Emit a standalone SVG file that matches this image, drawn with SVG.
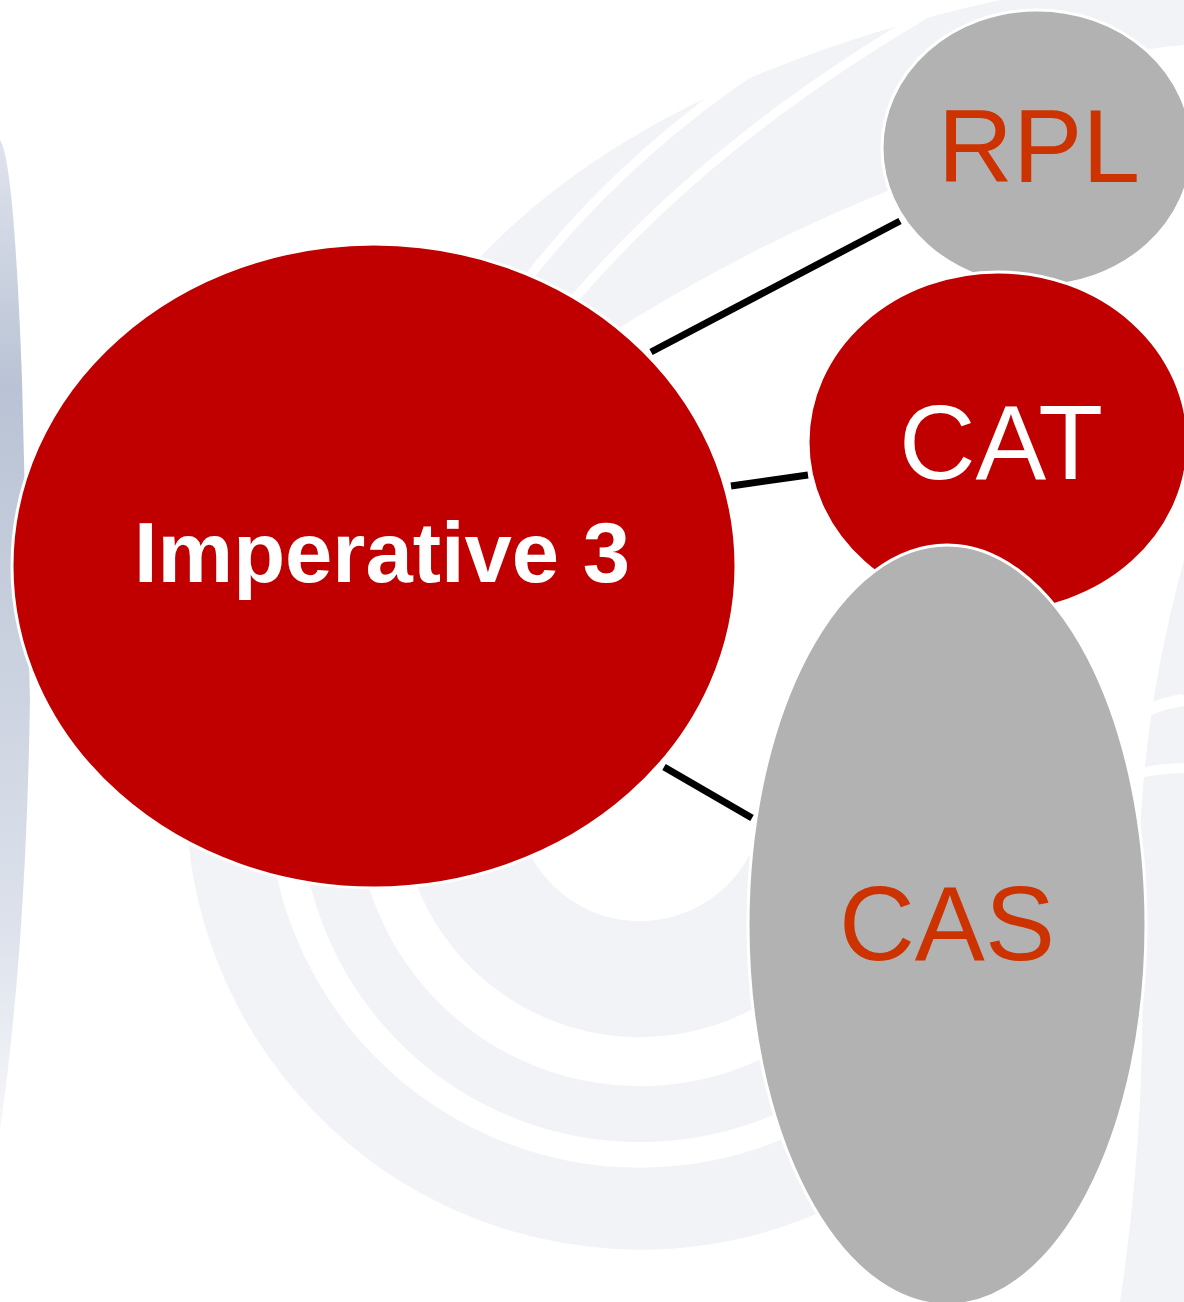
<svg xmlns="http://www.w3.org/2000/svg" width="1184" height="1302" viewBox="0 0 1184 1302">
<defs>
<style>
.bg{fill:none;stroke:#f2f3f7}
.bgf{fill:#f2f3f7}
.gap{fill:none;stroke:#fff}
.conn{stroke:#000;stroke-width:7;fill:none}
.red{fill:#c00000;stroke:#fff;stroke-width:3}
.grey{fill:#b2b2b2;stroke:#fff;stroke-width:3}
.lbl{font-family:"Liberation Sans",Arial,sans-serif;text-anchor:middle}
</style>
<linearGradient id="band" x1="0" y1="0" x2="0" y2="1">
<stop offset="0" stop-color="#dfe3ec"/>
<stop offset="0.25" stop-color="#b9c3d5"/>
<stop offset="0.55" stop-color="#ccd3e0"/>
<stop offset="0.8" stop-color="#dde2ec"/>
<stop offset="1" stop-color="#f6f7f9"/>
</linearGradient>
</defs>
<rect width="1184" height="1302" fill="#fff"/>
<g id="background">
<path d="M0 140 Q14 160 22 380 L30 700 Q26 950 0 1130 Z" fill="url(#band)"/>
<path class="bg" stroke-width="82" d="M227 800 A413 413 0 0 0 1051 836"/>
<path class="bg" stroke-width="56" d="M328 800 A312 312 0 0 0 951 827"/>
<path class="bg" stroke-width="116" d="M458 800 A182 182 0 0 0 821 816"/>
<path class="bgf" d="M470 268 Q640 80 1000 0 L1184 0 L1184 45 Q1000 60 890 190 Q740 250 600 340 Z"/>
<path class="gap" stroke-width="9" d="M528 278 Q660 110 870 0"/>
<path class="gap" stroke-width="9" d="M575 298 Q720 130 950 0"/>
<path class="bgf" d="M1184 560 L1184 1302 L1120 1302 Q1150 1100 1140 900 Q1135 740 1184 560 Z"/>
<path class="gap" stroke-width="12" d="M1120 725 Q1150 705 1184 700"/>
<path class="gap" stroke-width="10" d="M1130 775 Q1160 768 1184 768"/>
</g>
<g id="connectors">
<line class="conn" x1="651" y1="352" x2="900" y2="221"/>
<line class="conn" x1="731" y1="486" x2="808" y2="475"/>
<line class="conn" x1="664" y1="767" x2="752" y2="818"/>
</g>
<g id="node-imperative3">
<ellipse class="red" cx="374" cy="566" rx="362" ry="322"/>
<text class="lbl" x="382" y="582" font-size="85" font-weight="bold" fill="#fff">Imperative 3</text>
</g>
<g id="node-rpl">
<ellipse class="grey" cx="1037" cy="148" rx="155" ry="138"/>
<text class="lbl" x="1039" y="182" font-size="104" fill="#cc3300">RPL</text>
</g>
<g id="node-cat">
<ellipse class="red" cx="998" cy="442" rx="190" ry="170"/>
<text class="lbl" x="1001" y="479" font-size="106" fill="#fff">CAT</text>
</g>
<g id="node-cas">
<ellipse class="grey" cx="947" cy="925" rx="199" ry="380"/>
<text class="lbl" x="947" y="960" font-size="105" fill="#cc3300">CAS</text>
</g>
</svg>
